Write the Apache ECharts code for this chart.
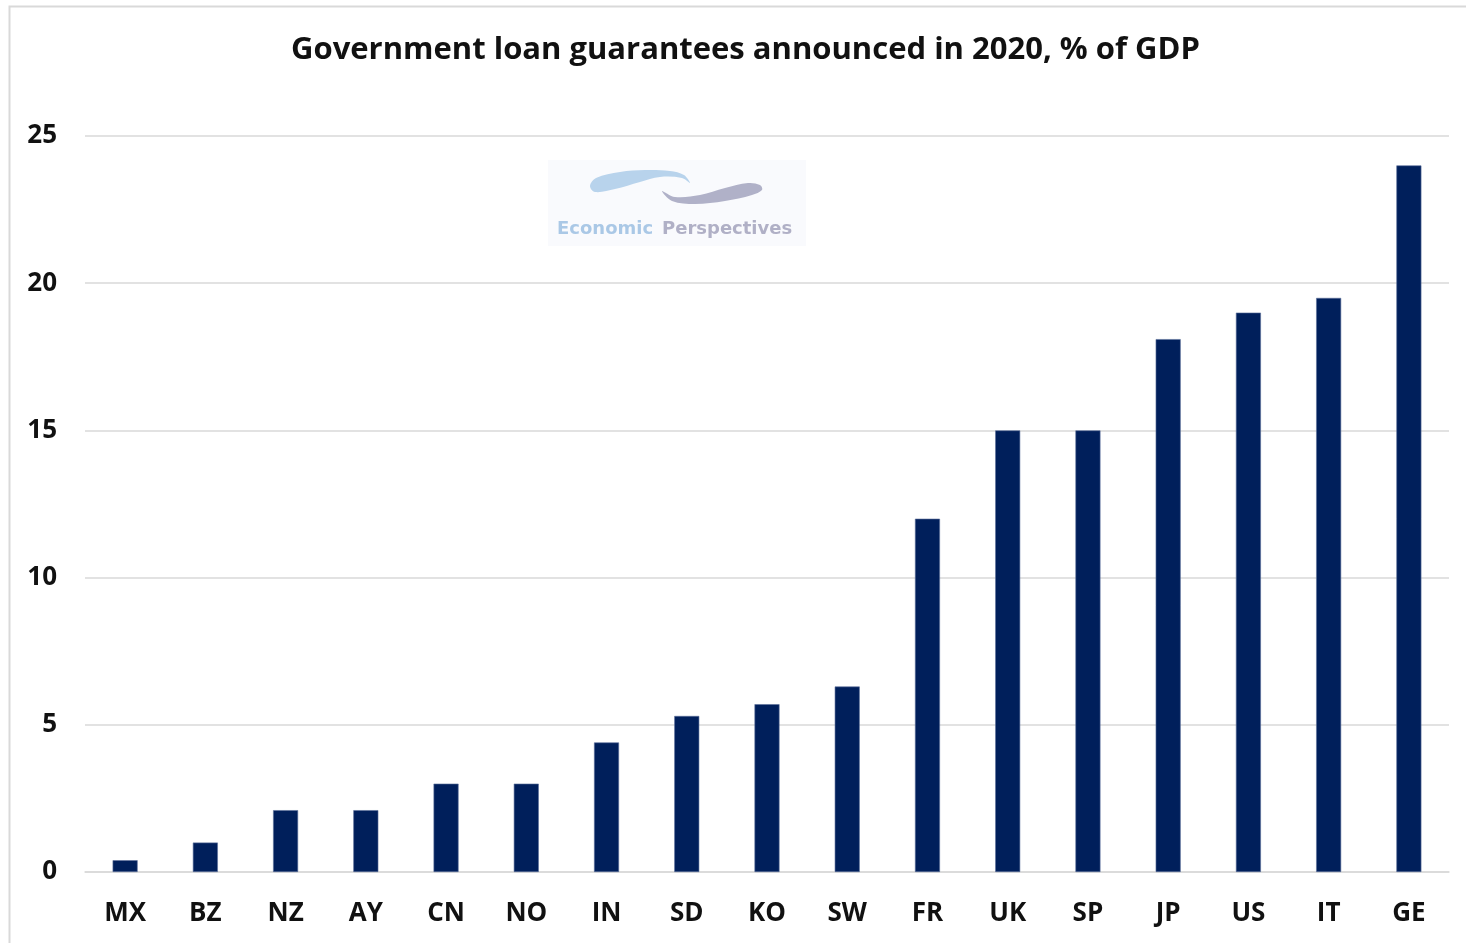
<!DOCTYPE html>
<html>
<head>
<meta charset="utf-8">
<style>
  html, body { margin: 0; padding: 0; background: #fff; }
  #chart { width: 1466px; height: 943px; }
</style>
<script src="https://cdn.jsdelivr.net/npm/echarts@6/dist/echarts.min.js"></script>
</head>
<body>
<div id="chart"></div>
<script>
// Country codes along the x axis
const countries = ['MX', 'BZ', 'NZ', 'AY', 'CN', 'NO', 'IN', 'SD', 'KO', 'SW', 'FR', 'UK', 'SP', 'JP', 'US', 'IT', 'GE'];
// Loan guarantees announced in 2020, % of GDP
const guarantees = [0.4, 1.0, 2.1, 2.1, 3.0, 3.0, 4.4, 5.3, 5.7, 6.3, 12.0, 15.0, 15.0, 18.1, 19.0, 19.5, 24.0];
// Value axis ticks
const yTicks = [0, 5, 10, 15, 20, 25];

const chart = echarts.init(document.getElementById('chart'), null, { renderer: 'canvas' });

const labelFont = '"Open Sans", "DejaVu Sans", sans-serif';
const logoFont = 'bold 18px "DejaVu Sans", sans-serif';

chart.setOption({
  backgroundColor: '#ffffff',
  animation: false,
  title: {
    text: 'Government loan guarantees announced in 2020, % of GDP',
    left: 286,
    top: 30,
    textStyle: { fontFamily: labelFont, fontSize: 31, fontWeight: 700, color: '#111111' }
  },
  graphic: [
    // outer frame
    { type: 'rect', shape: { x: 9.5, y: 6.5, width: 1470, height: 960 }, style: { fill: 'none', stroke: '#d9d9d9', lineWidth: 2 }, silent: true },
    // logo backdrop
    { type: 'rect', shape: { x: 548, y: 160, width: 258, height: 86 }, style: { fill: '#f9fafd' }, silent: true },
    // logo swooshes
    { type: 'polygon', shape: { smooth: 0.35, points: [[590, 186], [596, 178], [620, 172], [645, 170], [670, 171], [684, 175], [690, 183], [682, 178], [660, 177], [640, 182], [615, 189], [595, 192]] }, style: { fill: '#b8d3ec' }, silent: true },
    { type: 'polygon', shape: { smooth: 0.35, points: [[662, 191], [675, 197], [700, 195], [725, 188], [748, 183], [760, 185], [762, 190], [752, 195], [725, 201], [695, 204], [672, 201]] }, style: { fill: '#b0b1c8' }, silent: true },
    { type: 'text', style: { x: 557, y: 229, text: 'Economic', fill: '#aac8e6', font: logoFont, verticalAlign: 'middle' }, silent: true },
    { type: 'text', style: { x: 662, y: 229, text: 'Perspectives', fill: '#b0b0c6', font: logoFont, verticalAlign: 'middle' }, silent: true }
  ],
  grid: { left: 85, right: 17, top: 136, bottom: 71, containLabel: false },
  xAxis: {
    type: 'category',
    data: countries,
    axisLine: { show: true, lineStyle: { color: '#d9d9d9', width: 1.5 } },
    axisTick: { show: false },
    axisLabel: { margin: 29, color: '#111111', fontFamily: labelFont, fontSize: 26, fontWeight: 700 }
  },
  yAxis: {
    type: 'value',
    min: 0,
    max: 25,
    interval: 5,
    axisLine: { show: false },
    axisTick: { show: false },
    splitLine: { lineStyle: { color: '#d9d9d9', width: 1.5 } },
    axisLabel: {
      margin: 28,
      color: '#111111', fontFamily: labelFont, fontSize: 26, fontWeight: 700,
      formatter: v => (yTicks.includes(v) ? String(v) : '')
    }
  },
  series: [{
    type: 'bar',
    data: guarantees,
    barWidth: 25,
    itemStyle: { color: '#001f5b', borderColor: '#5a6f9a', borderWidth: 0.6 }
  }]
});
</script>
</body>
</html>
